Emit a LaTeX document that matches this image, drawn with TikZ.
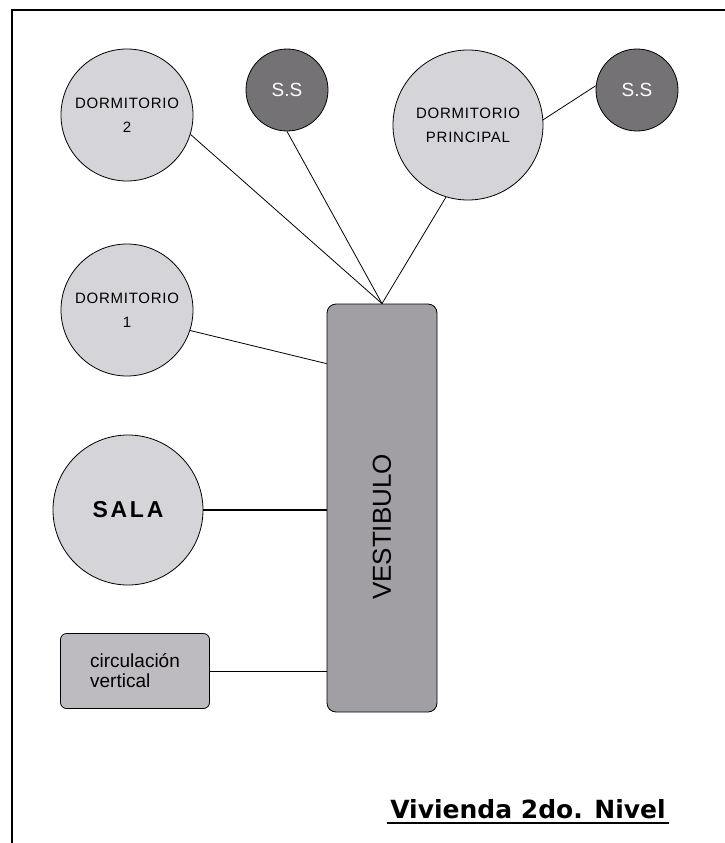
\documentclass[tikz,border=0pt]{standalone}
\usepackage{fontspec}
\setmainfont{Liberation Sans}
\newfontfamily\titlefont{DejaVu Sans}
\definecolor{roomgray}{HTML}{D5D4D8}
\definecolor{bathgray}{HTML}{747275}
\definecolor{hallgray}{HTML}{A19FA3}
\definecolor{stairgray}{HTML}{BDBBBF}

\begin{document}
\begin{tikzpicture}[x=1pt, y=-1pt, room/.style={circle, draw, line width=.8pt, fill=roomgray, inner sep=0pt, align=center, font=\fontsize{15}{24}\selectfont\addfontfeatures{LetterSpace=5}}, bath/.style={circle, draw, line width=.8pt, fill=bathgray, text=white, minimum size=82pt, inner sep=0pt, font=\fontsize{19}{22}\selectfont}, hall/.style={draw, line width=.8pt, fill=hallgray, rounded corners=9pt}, stair/.style={draw, line width=.8pt, fill=stairgray, rounded corners=6pt, align=left, font=\fontsize{19}{20}\selectfont}, link/.style={line width=.8pt}]
			\useasboundingbox (0,0) rectangle (725,843);
			\draw[line width=2.8pt] (12,843) -- (12,10) -- (725,10);
			\node[room, minimum size=132pt] (dorm2) at (127,115) {DORMITORIO\\2};
			\node[bath] (ss1) at (287,90) {S.S};
			\node[room, minimum size=150pt] (dprin) at (468,125) {DORMITORIO\\PRINCIPAL};
			\node[bath] (ss2) at (637,90) {S.S};
			\node[room, minimum size=132pt] (dorm1) at (127,310) {DORMITORIO\\1};
			\node[room, minimum size=150pt, font=\bfseries\fontsize{23}{28}\selectfont\addfontfeatures{LetterSpace=12}] (sala) at (128,510) {SALA};
			\node[hall, minimum width=110pt, minimum height=408pt] (vest) at (382,508) {};
			\node[rotate=90, font=\fontsize{26}{30}\selectfont] (vestlabel) at ([yshift=-19pt]vest.center) {VESTIBULO};
			\node[stair, minimum width=149pt, minimum height=75pt] (circ) at (135,671) {circulación\\vertical};
			\node[anchor=base, inner sep=3pt, font=\titlefont\bfseries\fontsize{25}{30}\selectfont] (title) at (528,818) {Vivienda 2do. Nivel};
			\draw[line width=1.5pt] ([yshift=-5pt]title.base west) -- ([yshift=-5pt]title.base east);
			\draw[link] (dorm2.-17) -- (vest.north);
			\draw[link] (ss1.south) -- (vest.north);
			\draw[link] (dprin.-107) -- (vest.north);
			\draw[link] (dprin.4) -- (ss2.174);
			\draw[link] (dorm1.-18) -- (vest.111);
			\draw[line width=2.5pt] (sala.east) -- (sala.east -| vest.west);
			\draw[link] (circ.east) -- (circ.east -| vest.west);
			\end{tikzpicture}
\end{document}
